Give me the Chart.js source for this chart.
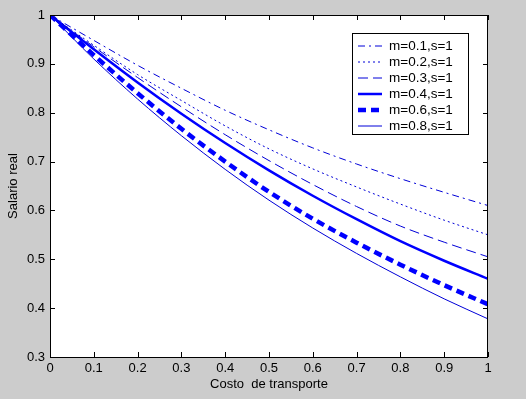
<!DOCTYPE html>
<html>
<head>
<meta charset="utf-8">
<script src="https://cdn.jsdelivr.net/npm/chart.js@4"></script>
<style>
  html, body { margin: 0; padding: 0; background: #cccccc; }
  #wrap { width: 526px; height: 399px; }
</style>
</head>
<body>
<div id="wrap"><canvas id="chart" width="526" height="399"></canvas></div>
<script>
// costo de transporte (x) and salario real for each m
const costo = [0, 0.1, 0.2, 0.3, 0.4, 0.5, 0.6, 0.7, 0.8, 0.9, 1];
const m01 = [1, 0.948, 0.897, 0.850, 0.805, 0.765, 0.728, 0.695, 0.665, 0.637, 0.610];
const m02 = [1, 0.938, 0.878, 0.825, 0.773, 0.726, 0.685, 0.648, 0.613, 0.580, 0.550];
const m03 = [1, 0.935, 0.872, 0.812, 0.755, 0.702, 0.653, 0.608, 0.568, 0.535, 0.505];
const m04 = [1, 0.930, 0.862, 0.798, 0.738, 0.682, 0.630, 0.582, 0.537, 0.497, 0.460];
const m06 = [1, 0.918, 0.840, 0.767, 0.700, 0.638, 0.583, 0.534, 0.489, 0.447, 0.408];
const m08 = [1, 0.910, 0.828, 0.753, 0.684, 0.621, 0.564, 0.512, 0.464, 0.419, 0.378];

const seriesLabels = ["m=0.1,s=1", "m=0.2,s=1", "m=0.3,s=1", "m=0.4,s=1", "m=0.6,s=1", "m=0.8,s=1"];
const xTicks = [0, 0.1, 0.2, 0.3, 0.4, 0.5, 0.6, 0.7, 0.8, 0.9, 1];
const yTicks = [0.3, 0.4, 0.5, 0.6, 0.7, 0.8, 0.9, 1];

const FONT = "'Liberation Sans', Arial, sans-serif";

function pts(ys) {
    return costo.map((x, i) => ({ x: x, y: ys[i] }));
}

// line styles (matlab like)
const styles = [
    { color: "#0000d8", width: 1, dash: [7, 4, 2, 4] },
    { color: "#0000d8", width: 1, dash: [2, 3] },
    { color: "#0000d8", width: 1, dash: [10, 5] },
    { color: "#0000ff", width: 2.5, dash: [] },
    { color: "#0000ff", width: 4.5, dash: [8, 5] },
    { color: "#0000d8", width: 1, dash: [] }
];
const allSeries = [m01, m02, m03, m04, m06, m08];

const datasets = allSeries.map((ys, i) => ({
    label: seriesLabels[i],
    data: pts(ys),
    borderColor: styles[i].color,
    borderWidth: styles[i].width,
    borderDash: styles[i].dash,
    pointRadius: 0,
    fill: false,
    cubicInterpolationMode: "monotone"
}));

// white plot background
const plotBg = {
    id: "plotBg",
    beforeDraw(chart) {
        const { ctx, chartArea: a } = chart;
        ctx.save();
        ctx.fillStyle = "#fff";
        ctx.fillRect(a.left, a.top, a.right - a.left, a.bottom - a.top);
        ctx.restore();
    }
};

// box round the axes with inward ticks on all four sides
const axisBox = {
    id: "axisBox",
    afterDatasetsDraw(chart) {
        const { ctx, chartArea: a, scales } = chart;
        ctx.save();
        ctx.strokeStyle = "#000";
        ctx.lineWidth = 1;
        ctx.setLineDash([]);
        ctx.strokeRect(a.left + 0.5, a.top + 0.5, a.right - a.left - 1, a.bottom - a.top);
        ctx.beginPath();
        xTicks.forEach(v => {
            const px = Math.round(scales.x.getPixelForValue(v)) + 0.5;
            ctx.moveTo(px, a.bottom);
            ctx.lineTo(px, a.bottom - 5);
            ctx.moveTo(px, a.top);
            ctx.lineTo(px, a.top + 5);
        });
        yTicks.forEach(v => {
            const py = Math.round(scales.y.getPixelForValue(v)) + 0.5;
            ctx.moveTo(a.left, py);
            ctx.lineTo(a.left + 5, py);
            ctx.moveTo(a.right, py);
            ctx.lineTo(a.right - 5, py);
        });
        ctx.stroke();
        ctx.restore();
    }
};

// legend box inside the plot, top right
const boxLegend = {
    id: "boxLegend",
    afterDraw(chart) {
        const ctx = chart.ctx;
        const x0 = 352, y0 = 33, w = 116, h = 101;
        ctx.save();
        ctx.fillStyle = "#fff";
        ctx.fillRect(x0, y0, w, h);
        ctx.strokeStyle = "#000";
        ctx.lineWidth = 1;
        ctx.setLineDash([]);
        ctx.strokeRect(x0 + 0.5, y0 + 0.5, w, h);
        ctx.font = "13.5px " + FONT;
        ctx.textBaseline = "middle";
        chart.data.datasets.forEach((ds, i) => {
            const y = 46 + i * 16;
            ctx.strokeStyle = ds.borderColor;
            ctx.lineWidth = ds.borderWidth;
            ctx.setLineDash(ds.borderDash);
            ctx.beginPath();
            ctx.moveTo(358, y);
            ctx.lineTo(382, y);
            ctx.stroke();
            ctx.fillStyle = "#000";
            ctx.fillText(ds.label, 389, y);
        });
        ctx.restore();
    }
};

new Chart(document.getElementById("chart"), {
    type: "line",
    data: { datasets: datasets },
    plugins: [plotBg, axisBox, boxLegend],
    options: {
        responsive: false,
        animation: false,
        devicePixelRatio: 1,
        layout: { padding: { top: 15, right: 38, left: 0, bottom: 0 } },
        plugins: {
            legend: { display: false },
            tooltip: { enabled: false }
        },
        scales: {
            x: {
                type: "linear",
                min: 0,
                max: 1,
                afterBuildTicks: s => { s.ticks = xTicks.map(v => ({ value: v })); },
                afterFit: s => { s.height = 42; },
                grid: { display: false, drawTicks: false },
                border: { display: false },
                ticks: {
                    color: "#000",
                    padding: 4,
                    maxRotation: 0,
                    font: { family: FONT, size: 13 },
                    callback: v => String(v)
                },
                title: {
                    display: true,
                    text: "Costo  de transporte",
                    color: "#000",
                    font: { family: FONT, size: 13 },
                    padding: { top: 0, bottom: 7 }
                }
            },
            y: {
                type: "linear",
                min: 0.3,
                max: 1,
                afterBuildTicks: s => { s.ticks = yTicks.map(v => ({ value: v })); },
                afterFit: s => { s.width = 50; },
                grid: { display: false, drawTicks: false },
                border: { display: false },
                ticks: {
                    color: "#000",
                    padding: 5,
                    font: { family: FONT, size: 13 },
                    callback: v => String(v)
                },
                title: {
                    display: true,
                    text: "Salario real",
                    color: "#000",
                    font: { family: FONT, size: 13 },
                    padding: { top: 6, bottom: 0 }
                }
            }
        }
    }
});
</script>
</body>
</html>
